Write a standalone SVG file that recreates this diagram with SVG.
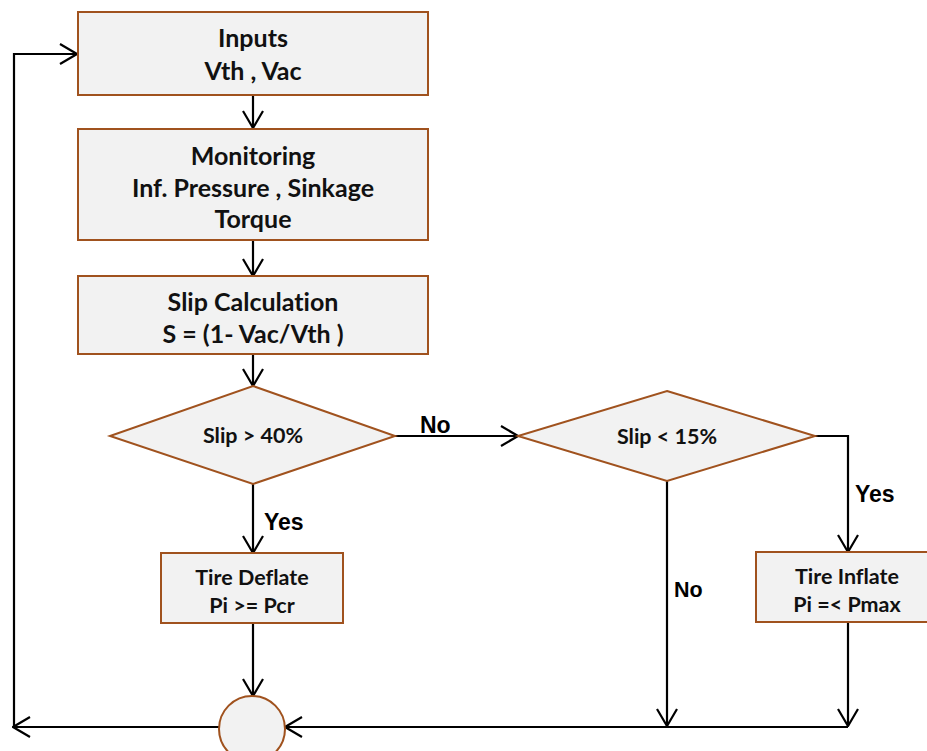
<svg xmlns="http://www.w3.org/2000/svg" width="927" height="751" viewBox="0 0 927 751">
<defs>
<marker id="arr" viewBox="0 0 20 24" refX="19" refY="12" markerWidth="20" markerHeight="24" markerUnits="userSpaceOnUse" orient="auto">
<path d="M2,2 L19,12 L2,22" fill="none" stroke="#000" stroke-width="2.2"/>
</marker>
</defs>
<style>
.box{fill:#F2F2F2;stroke:#A0521E;stroke-width:2}
.t{font-family:Lato,"Liberation Sans",sans-serif;font-weight:bold;fill:#111;text-anchor:middle;font-variant-ligatures:none}
.big{font-size:25px}
.sm{font-size:21.5px}
.lbl{font-family:"Liberation Sans",Arial,sans-serif;font-weight:bold;fill:#000;font-size:23px}
.c{fill:none;stroke:#000;stroke-width:2.2}
</style>
<rect width="927" height="751" fill="#fff"/>
<g id="connectors">
<path class="c" d="M14,727 L14,54 L77,54" marker-end="url(#arr)"/>
<path class="c" d="M253,95 L253,128" marker-end="url(#arr)"/>
<path class="c" d="M253,240 L253,276" marker-end="url(#arr)"/>
<path class="c" d="M253,354 L253,386" marker-end="url(#arr)"/>
<path class="c" d="M395,436 L518,436" marker-end="url(#arr)"/>
<path class="c" d="M253,484 L253,553" marker-end="url(#arr)"/>
<path class="c" d="M253,623 L253,696" marker-end="url(#arr)"/>
<path class="c" d="M815,436 L848,436 L848,552" marker-end="url(#arr)"/>
<path class="c" d="M667,481 L667,726" marker-end="url(#arr)"/>
<path class="c" d="M848,622 L848,726" marker-end="url(#arr)"/>
<path class="c" d="M848,727 L285,727" marker-end="url(#arr)"/>
<path class="c" d="M219,727 L13,727" marker-end="url(#arr)"/>
<text class="lbl" x="420" y="433">No</text>
<text class="lbl" x="264" y="530">Yes</text>
<text class="lbl" x="855" y="502">Yes</text>
<text class="lbl" x="674" y="597" style="font-size:21.5px">No</text>
</g>
<g id="inputs">
<rect class="box" x="78" y="12" width="350" height="83"/>
<text class="t big" x="253" y="47">Inputs</text>
<text class="t big" x="253" y="80">Vth , Vac</text>
</g>
<g id="monitoring">
<rect class="box" x="78" y="129" width="350" height="111"/>
<text class="t big" x="253" y="165">Monitoring</text>
<text class="t big" x="253" y="197">Inf. Pressure , Sinkage</text>
<text class="t big" x="253" y="228">Torque</text>
</g>
<g id="slipcalc">
<rect class="box" x="78" y="276" width="350" height="78"/>
<text class="t big" x="253" y="311">Slip Calculation</text>
<text class="t big" x="253" y="343">S = (1- Vac/Vth )</text>
</g>
<g id="slip40">
<polygon class="box" points="253,386 395,436 253,484 110,436"/>
<text class="t sm" x="253" y="443">Slip &gt; 40%</text>
</g>
<g id="slip15">
<polygon class="box" points="667,391 815,436 667,481 518,436"/>
<text class="t sm" x="667" y="444">Slip &lt; 15%</text>
</g>
<g id="deflate">
<rect class="box" x="161" y="553" width="182" height="70"/>
<text class="t sm" x="252" y="585">Tire Deflate</text>
<text class="t sm" x="252" y="613">Pi &gt;= Pcr</text>
</g>
<g id="inflate">
<rect class="box" x="756" y="552" width="185" height="70"/>
<text class="t sm" x="847" y="584">Tire Inflate</text>
<text class="t sm" x="847" y="612">Pi =&lt; Pmax</text>
</g>
<g id="junction">
<circle class="box" cx="252" cy="729" r="33"/>
</g>
</svg>
